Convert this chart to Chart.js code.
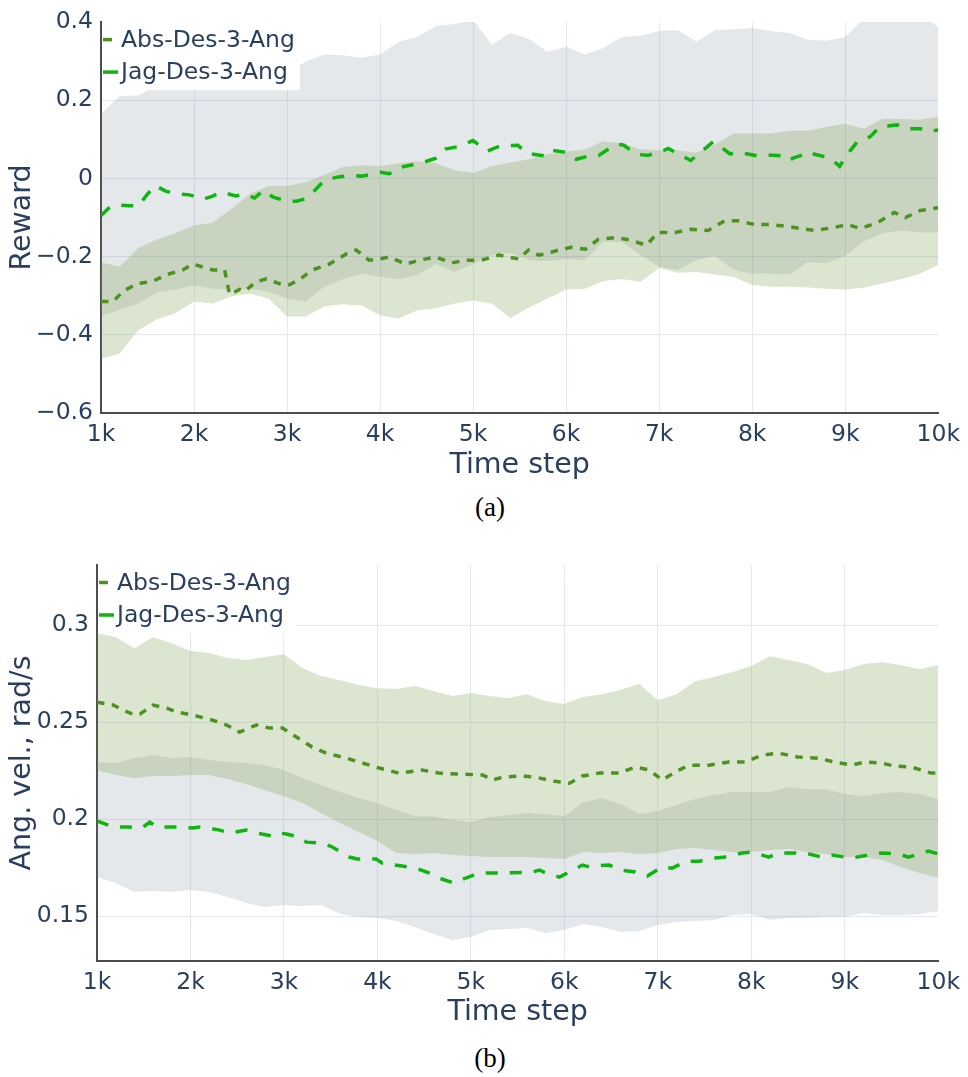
<!DOCTYPE html>
<html>
<head>
<meta charset="utf-8">
<script src="https://cdn.jsdelivr.net/npm/chart.js@4.4.1/dist/chart.umd.min.js"></script>
<style>
  html, body { margin: 0; padding: 0; background: #ffffff; }
  body { width: 968px; height: 1077px; position: relative; overflow: hidden; }
  .panel { position: absolute; left: 0; width: 968px; }
  #wrapA { top: 0; height: 490px; }
  #wrapB { top: 540px; height: 500px; }
  .caption { position: absolute; left: 0; width: 980px; text-align: center;
             font-family: "Liberation Serif", "DejaVu Serif", serif; font-size: 27px;
             line-height: 27px; color: #000000; }
  #capA { top: 494px; }
  #capB { top: 1045px; }
</style>
</head>
<body>
<div class="panel" id="wrapA"><canvas id="chartA" width="968" height="490"></canvas></div>
<div class="panel" id="wrapB"><canvas id="chartB" width="968" height="500"></canvas></div>
<div class="caption" id="capA">(a)</div>
<div class="caption" id="capB">(b)</div>
<script>
// ---------- shared x grid for the shaded bands (time steps) ----------
const steps = [1000, 1200, 1400, 1600, 1800, 2000, 2200, 2400, 2600, 2800,
               3000, 3200, 3400, 3600, 3800, 4000, 4200, 4400, 4600, 4800,
               5000, 5200, 5400, 5600, 5800, 6000, 6200, 6400, 6600, 6800,
               7000, 7200, 7400, 7600, 7800, 8000, 8200, 8400, 8600, 8800,
               9000, 9200, 9400, 9600, 9800, 10000];

const xTicks = [1000, 2000, 3000, 4000, 5000, 6000, 7000, 8000, 9000, 10000];
const xTickLabels = ['1k', '2k', '3k', '4k', '5k', '6k', '7k', '8k', '9k', '10k'];

const seriesNames = ['Abs-Des-3-Ang', 'Jag-Des-3-Ang'];

// ---------- (a) reward ----------
const rewardTicks = [-0.6, -0.4, -0.2, 0, 0.2, 0.4];
const rewardTickLabels = ['\u22120.6', '\u22120.4', '\u22120.2', '0', '0.2', '0.4'];

const rewardJagUpper = [0.165, 0.211, 0.212, 0.240, 0.245, 0.250, 0.248, 0.255, 0.260, 0.262,
  0.268, 0.299, 0.317, 0.315, 0.309, 0.317, 0.350, 0.362, 0.390, 0.395,
  0.405, 0.342, 0.372, 0.357, 0.324, 0.337, 0.317, 0.334, 0.362, 0.365,
  0.377, 0.380, 0.350, 0.380, 0.382, 0.385, 0.377, 0.372, 0.355, 0.352,
  0.362, 0.410, 0.450, 0.450, 0.430, 0.385];
const rewardJagLower = [-0.353, -0.335, -0.320, -0.292, -0.284, -0.274, -0.282, -0.285, -0.282, -0.289,
  -0.307, -0.315, -0.277, -0.257, -0.244, -0.252, -0.257, -0.247, -0.219, -0.239,
  -0.219, -0.196, -0.190, -0.209, -0.211, -0.206, -0.209, -0.161, -0.163, -0.196,
  -0.226, -0.234, -0.209, -0.198, -0.234, -0.244, -0.244, -0.246, -0.214, -0.216,
  -0.198, -0.161, -0.140, -0.133, -0.138, -0.138];
const rewardAbsUpper = [-0.215, -0.225, -0.178, -0.156, -0.140, -0.120, -0.113, -0.078, -0.040, -0.019,
  -0.019, -0.009, 0.009, 0.029, 0.034, 0.031, 0.039, 0.044, 0.039, 0.021,
  0.014, 0.031, 0.041, 0.049, 0.062, 0.069, 0.074, 0.095, 0.090, 0.075,
  0.072, 0.072, 0.066, 0.087, 0.115, 0.115, 0.115, 0.122, 0.122, 0.132,
  0.140, 0.127, 0.153, 0.152, 0.150, 0.158];
const rewardAbsLower = [-0.461, -0.448, -0.388, -0.360, -0.345, -0.315, -0.320, -0.302, -0.294, -0.307,
  -0.353, -0.353, -0.327, -0.322, -0.325, -0.350, -0.358, -0.337, -0.332, -0.320,
  -0.312, -0.320, -0.357, -0.330, -0.307, -0.284, -0.282, -0.262, -0.257, -0.264,
  -0.229, -0.241, -0.239, -0.246, -0.252, -0.272, -0.277, -0.277, -0.279, -0.282,
  -0.284, -0.279, -0.269, -0.257, -0.244, -0.221];

const rewardAbsSteps = [1000, 1130, 1236, 1386, 1546, 1707, 1879, 1986, 2200, 2329,
  2382, 2489, 2543, 2671, 2779, 2950, 3025, 3132, 3271, 3454,
  3636, 3743, 3882, 3989, 4096, 4279, 4418, 4600, 4771, 4921,
  5093, 5275, 5489, 5596, 5703, 5779, 5918, 6057, 6207, 6346,
  6539, 6700, 6861, 6989, 7171, 7343, 7525, 7707, 7846, 8029,
  8200, 8382, 8521, 8682, 8886, 9025, 9164, 9346, 9529, 9646,
  9807, 10000];
const rewardAbs = [-0.315, -0.315, -0.289, -0.269, -0.264, -0.246, -0.234, -0.219, -0.234, -0.234,
  -0.297, -0.284, -0.289, -0.264, -0.257, -0.272, -0.272, -0.259, -0.234, -0.219,
  -0.193, -0.183, -0.209, -0.206, -0.201, -0.219, -0.209, -0.201, -0.216, -0.209,
  -0.209, -0.196, -0.206, -0.183, -0.196, -0.193, -0.183, -0.176, -0.181, -0.156,
  -0.151, -0.158, -0.171, -0.138, -0.138, -0.130, -0.133, -0.108, -0.108, -0.118,
  -0.118, -0.123, -0.128, -0.133, -0.125, -0.118, -0.128, -0.113, -0.087, -0.100,
  -0.082, -0.075];

const rewardJagSteps = [1000, 1100, 1200, 1300, 1400, 1500, 1580, 1700, 1850, 1950,
  2100, 2200, 2300, 2450, 2550, 2650, 2750, 2850, 3000, 3100,
  3200, 3300, 3400, 3550, 3700, 3800, 3900, 4000, 4100, 4200,
  4350, 4450, 4600, 4700, 4850, 5000, 5150, 5300, 5480, 5575,
  5700, 5790, 5850, 6000, 6110, 6250, 6350, 6500, 6560, 6620,
  6750, 6880, 7050, 7100, 7160, 7340, 7400, 7580, 7640, 7760,
  7880, 8050, 8170, 8330, 8400, 8440, 8560, 8620, 8670, 8840,
  8940, 9050, 9130, 9270, 9370, 9560, 9640, 9810, 9880, 10000];
const rewardJag = [-0.095, -0.072, -0.068, -0.070, -0.070, -0.040, -0.018, -0.033, -0.040, -0.042,
  -0.053, -0.045, -0.035, -0.045, -0.040, -0.050, -0.030, -0.048, -0.058, -0.058,
  -0.052, -0.030, -0.005, 0.004, 0.008, 0.006, 0.010, 0.016, 0.012, 0.028,
  0.035, 0.040, 0.052, 0.075, 0.082, 0.097, 0.070, 0.084, 0.085, 0.065,
  0.060, 0.057, 0.072, 0.067, 0.049, 0.058, 0.059, 0.082, 0.088, 0.085,
  0.062, 0.059, 0.072, 0.077, 0.068, 0.046, 0.058, 0.094, 0.085, 0.063,
  0.066, 0.058, 0.060, 0.058, 0.046, 0.052, 0.062, 0.068, 0.062, 0.052,
  0.031, 0.070, 0.094, 0.107, 0.132, 0.137, 0.127, 0.127, 0.120, 0.124];

// ---------- (b) angular velocity ----------
const angTicks = [0.15, 0.2, 0.25, 0.3];
const angTickLabels = ['0.15', '0.2', '0.25', '0.3'];

const angJagUpper = [0.2294, 0.2289, 0.2314, 0.2330, 0.2314, 0.2320, 0.2304, 0.2294, 0.2289, 0.2278,
  0.2253, 0.2211, 0.2175, 0.2139, 0.2108, 0.2082, 0.2046, 0.2015, 0.2015, 0.1995,
  0.1984, 0.2010, 0.2020, 0.2031, 0.2025, 0.2015, 0.2087, 0.2108, 0.2077, 0.2025,
  0.2041, 0.2072, 0.2103, 0.2124, 0.2139, 0.2139, 0.2139, 0.2165, 0.2154, 0.2154,
  0.2129, 0.2118, 0.2134, 0.2139, 0.2129, 0.2103];
const angJagLower = [0.1701, 0.1670, 0.1624, 0.1629, 0.1624, 0.1634, 0.1624, 0.1598, 0.1567, 0.1546,
  0.1557, 0.1552, 0.1557, 0.1510, 0.1495, 0.1490, 0.1474, 0.1443, 0.1407, 0.1376,
  0.1392, 0.1428, 0.1433, 0.1438, 0.1412, 0.1428, 0.1459, 0.1443, 0.1417, 0.1423,
  0.1454, 0.1469, 0.1474, 0.1480, 0.1505, 0.1510, 0.1480, 0.1490, 0.1490, 0.1495,
  0.1495, 0.1515, 0.1505, 0.1505, 0.1510, 0.1526];
const angAbsUpper = [0.2959, 0.2938, 0.2881, 0.2938, 0.2907, 0.2866, 0.2856, 0.2830, 0.2820, 0.2835,
  0.2850, 0.2778, 0.2737, 0.2716, 0.2691, 0.2675, 0.2670, 0.2686, 0.2660, 0.2634,
  0.2650, 0.2634, 0.2624, 0.2644, 0.2608, 0.2593, 0.2629, 0.2644, 0.2665, 0.2696,
  0.2613, 0.2644, 0.2711, 0.2732, 0.2758, 0.2789, 0.2840, 0.2820, 0.2799, 0.2753,
  0.2768, 0.2799, 0.2809, 0.2794, 0.2773, 0.2794];
const angAbsLower = [0.2253, 0.2227, 0.2211, 0.2222, 0.2222, 0.2227, 0.2227, 0.2206, 0.2180, 0.2149,
  0.2118, 0.2082, 0.2030, 0.1980, 0.1933, 0.1887, 0.1825, 0.1820, 0.1825, 0.1814,
  0.1809, 0.1804, 0.1804, 0.1804, 0.1799, 0.1794, 0.1830, 0.1825, 0.1830, 0.1820,
  0.1825, 0.1845, 0.1851, 0.1840, 0.1830, 0.1830, 0.1840, 0.1845, 0.1830, 0.1820,
  0.1804, 0.1804, 0.1789, 0.1753, 0.1722, 0.1696];

const angAbsSteps = [1000, 1171, 1352, 1459, 1597, 1746, 1853, 2024, 2237, 2386,
  2525, 2706, 2845, 2983, 3133, 3303, 3453, 3666, 4018, 4231,
  4476, 4658, 4871, 5127, 5234, 5340, 5521, 5692, 5873, 6055,
  6193, 6375, 6588, 6759, 6908, 7046, 7185, 7334, 7548, 7761,
  7932, 8124, 8284, 8497, 8710, 8891, 9073, 9212, 9393, 9531,
  9712, 9925, 10000];
const angAbs = [0.2603, 0.2588, 0.2546, 0.2541, 0.2588, 0.2572, 0.2552, 0.2536, 0.2510, 0.2485,
  0.2448, 0.2485, 0.2469, 0.2469, 0.2423, 0.2371, 0.2340, 0.2314, 0.2263, 0.2237,
  0.2253, 0.2237, 0.2232, 0.2227, 0.2201, 0.2216, 0.2222, 0.2216, 0.2196, 0.2185,
  0.2222, 0.2237, 0.2237, 0.2268, 0.2253, 0.2201, 0.2242, 0.2278, 0.2278, 0.2294,
  0.2294, 0.2330, 0.2340, 0.2320, 0.2314, 0.2294, 0.2278, 0.2294, 0.2289, 0.2273,
  0.2268, 0.2237, 0.2237];

const angJagSteps = [1000, 1171, 1320, 1480, 1565, 1640, 1853, 2024, 2098, 2184,
  2312, 2418, 2600, 2706, 2877, 2951, 3026, 3165, 3239, 3410,
  3517, 3698, 3783, 3986, 4050, 4263, 4412, 4551, 4658, 4818,
  4946, 5084, 5372, 5660, 5735, 5799, 5948, 6033, 6193, 6268,
  6332, 6481, 6588, 6759, 6887, 7046, 7153, 7313, 7441, 7612,
  7718, 7900, 8006, 8188, 8294, 8454, 8571, 8753, 8860, 8998,
  9073, 9254, 9393, 9574, 9681, 9894, 10000];
const angJag = [0.1990, 0.1959, 0.1959, 0.1954, 0.1984, 0.1959, 0.1959, 0.1954, 0.1959, 0.1954,
  0.1943, 0.1928, 0.1943, 0.1928, 0.1912, 0.1928, 0.1923, 0.1907, 0.1881, 0.1876,
  0.1856, 0.1804, 0.1794, 0.1794, 0.1773, 0.1758, 0.1747, 0.1722, 0.1696, 0.1670,
  0.1696, 0.1722, 0.1722, 0.1727, 0.1737, 0.1722, 0.1701, 0.1722, 0.1763, 0.1753,
  0.1758, 0.1763, 0.1737, 0.1727, 0.1706, 0.1753, 0.1747, 0.1783, 0.1783, 0.1799,
  0.1804, 0.1825, 0.1830, 0.1804, 0.1825, 0.1825, 0.1825, 0.1804, 0.1814, 0.1804,
  0.1799, 0.1814, 0.1825, 0.1820, 0.1804, 0.1835, 0.1820];

// ---------- styling ----------
const TEXT = '#2a3f5f';
const GRID = '#E4E8F1';
const AXIS = '#4d4d4d';
const ABS_COLOR = 'rgb(77, 146, 33)';
const JAG_COLOR = 'rgb(16, 180, 16)';
const GRAY_FILL = 'rgba(120, 140, 150, 0.2)';
const GREEN_FILL = 'rgba(115, 151, 63, 0.25)';
const FONT = '"DejaVu Sans", "Liberation Sans", sans-serif';
const TICK_SIZE = 23.5;
const TITLE_SIZE = 28.5;

Chart.defaults.font.family = FONT;
Chart.defaults.color = TEXT;

function points(xs, ys) { return xs.map((x, i) => ({ x: x, y: ys[i] })); }

// Legend drawn inside the plot area on a white box, top-left corner.
const insetLegend = {
  id: 'insetLegend',
  afterDatasetsDraw(chart, args, opts) {
    const { ctx, chartArea } = chart;
    const x0 = chartArea.left + 1;
    const y0 = chartArea.top;
    ctx.save();
    ctx.fillStyle = '#ffffff';
    ctx.fillRect(x0, y0, opts.width, opts.height);
    const items = chart.data.datasets.filter(d => d.inLegend);
    items.forEach((d, i) => {
      const y = y0 + opts.rows[i];
      ctx.setLineDash([]);
      ctx.lineCap = 'butt';
      ctx.strokeStyle = d.borderColor;
      ctx.lineWidth = d.borderWidth;
      ctx.beginPath();
      ctx.moveTo(x0 + 1, y);
      ctx.lineTo(x0 + 1 + d.sampleLength, y);
      ctx.stroke();
      ctx.fillStyle = TEXT;
      ctx.font = TICK_SIZE + 'px ' + FONT;
      ctx.textBaseline = 'middle';
      ctx.textAlign = 'left';
      ctx.fillText(d.label, x0 + opts.textX, y + 1);
    });
    ctx.restore();
  }
};

function bandSets(xs, jagUp, jagLo, absUp, absLo) {
  return [
    { label: seriesNames[1] + ' band top', data: points(xs, jagUp), borderWidth: 0,
      pointRadius: 0, fill: false, order: 4 },
    { label: seriesNames[1] + ' band bottom', data: points(xs, jagLo), borderWidth: 0,
      pointRadius: 0, fill: '-1', backgroundColor: GRAY_FILL, order: 3 },
    { label: seriesNames[0] + ' band top', data: points(xs, absUp), borderWidth: 0,
      pointRadius: 0, fill: false, order: 2 },
    { label: seriesNames[0] + ' band bottom', data: points(xs, absLo), borderWidth: 0,
      pointRadius: 0, fill: '-1', backgroundColor: GREEN_FILL, order: 1 }
  ];
}

function meanSets(absX, absY, jagX, jagY) {
  return [
    { label: seriesNames[0], data: points(absX, absY), borderColor: ABS_COLOR,
      borderWidth: 3.5, borderDash: [7.5, 7.5], pointRadius: 0, fill: false,
      tension: 0, order: 0, inLegend: true, sampleLength: 9 },
    { label: seriesNames[1], data: points(jagX, jagY), borderColor: JAG_COLOR,
      borderWidth: 3.5, borderDash: [12, 12], pointRadius: 0, fill: false,
      tension: 0, order: 0, inLegend: true, sampleLength: 15 }
  ];
}

function buildOptions(cfg) {
  return {
    responsive: false,
    animation: false,
    devicePixelRatio: 1,
    events: [],
    layout: { padding: { left: 0, right: cfg.padRight, top: cfg.padTop, bottom: 0 } },
    plugins: {
      legend: { display: false },
      tooltip: { enabled: false },
      insetLegend: { width: 198, height: cfg.legendHeight, rows: [17.5, 50], textX: 19 }
    },
    scales: {
      x: {
        type: 'linear',
        min: 1000,
        max: 10000,
        afterFit(scale) { scale.height = cfg.xAxisHeight; },
        afterBuildTicks(scale) { scale.ticks = xTicks.map(v => ({ value: v })); },
        ticks: {
          autoSkip: false, maxRotation: 0, minRotation: 0, padding: 8,
          font: { size: TICK_SIZE }, color: TEXT,
          callback: (v) => xTickLabels[xTicks.indexOf(v)]
        },
        grid: {
          drawTicks: false,
          color: (c) => (c.tick && c.tick.value === 10000) ? 'rgba(0,0,0,0)' : GRID,
          lineWidth: 1
        },
        border: { display: true, color: AXIS, width: 2 },
        title: {
          display: true, text: 'Time step', color: TEXT,
          font: { size: TITLE_SIZE, lineHeight: 1 },
          padding: { top: 0, bottom: cfg.xTitlePad }
        }
      },
      y: {
        min: cfg.yMin,
        max: cfg.yMax,
        afterFit(scale) { scale.width = cfg.yAxisWidth; },
        afterBuildTicks(scale) { scale.ticks = cfg.yTicks.map(v => ({ value: v })); },
        ticks: {
          autoSkip: false, padding: 8, font: { size: TICK_SIZE }, color: TEXT,
          callback: (v) => cfg.yTickLabels[cfg.yTicks.indexOf(v)]
        },
        grid: {
          drawTicks: false,
          color: (c) => (c.tick && c.tick.value === cfg.yHideGrid) ? 'rgba(0,0,0,0)' : GRID,
          lineWidth: 1
        },
        border: { display: true, color: AXIS, width: 2 },
        title: {
          display: true, text: cfg.yTitle, color: TEXT,
          font: { size: TITLE_SIZE, lineHeight: 1 },
          padding: { top: 8.5, bottom: 0 }
        }
      }
    }
  };
}

// (a) reward per time step
new Chart(document.getElementById('chartA'), {
  type: 'line',
  data: {
    datasets: bandSets(steps, rewardJagUpper, rewardJagLower, rewardAbsUpper, rewardAbsLower)
      .concat(meanSets(rewardAbsSteps, rewardAbs, rewardJagSteps, rewardJag))
  },
  options: buildOptions({
    padRight: 27, padTop: 17, xAxisHeight: 77, xTitlePad: 10.5, yAxisWidth: 101,
    yMin: -0.6, yMax: 0.4, yTicks: rewardTicks, yTickLabels: rewardTickLabels,
    yHideGrid: 0.4, yTitle: 'Reward', legendHeight: 68
  }),
  plugins: [insetLegend]
});

// (b) angular velocity per time step
new Chart(document.getElementById('chartB'), {
  type: 'line',
  data: {
    datasets: bandSets(steps, angJagUpper, angJagLower, angAbsUpper, angAbsLower)
      .concat(meanSets(angAbsSteps, angAbs, angJagSteps, angJag))
  },
  options: buildOptions({
    padRight: 26, padTop: 25, xAxisHeight: 79, xTitlePad: 13.5, yAxisWidth: 97,
    yMin: 0.1268, yMax: 0.331, yTicks: angTicks, yTickLabels: angTickLabels,
    yHideGrid: null, yTitle: 'Ang. vel., rad/s', legendHeight: 69
  }),
  plugins: [insetLegend]
});
</script>
</body>
</html>
